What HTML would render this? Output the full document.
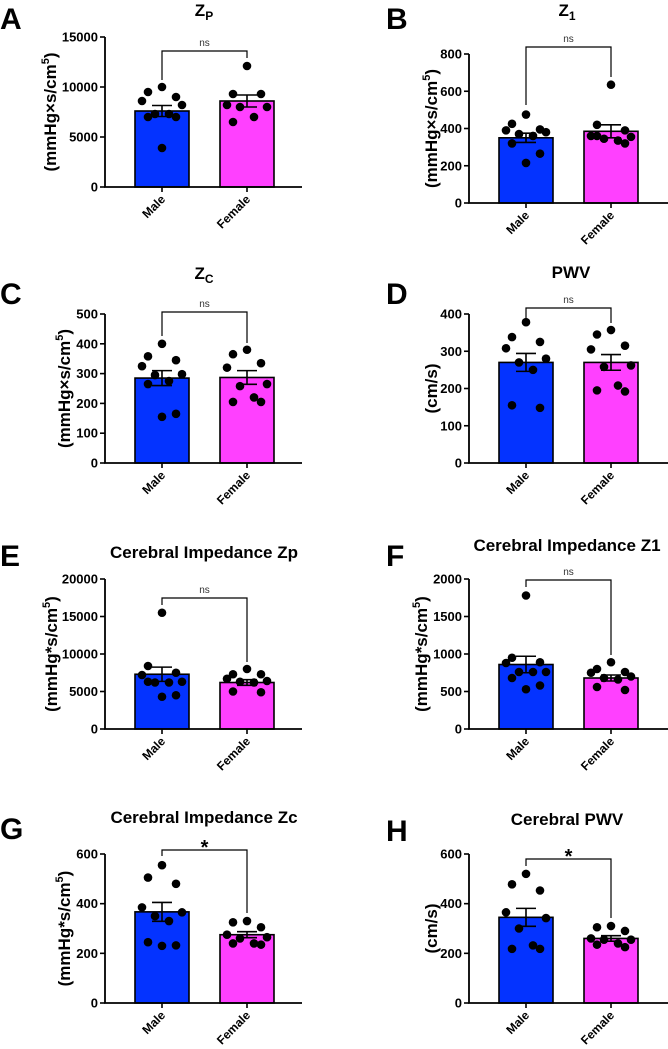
<!DOCTYPE html>
<html><head><meta charset="utf-8"><style>
html,body{margin:0;padding:0;background:#fff;}
svg{display:block;font-family:"Liberation Sans",Arial,sans-serif;}
</style></head><body>
<svg id="fig" width="668" height="1049" viewBox="0 0 668 1049" xmlns="http://www.w3.org/2000/svg"></svg>
<script>
const categories = ["Male","Female"];
const aMale = [10000,9500,9000,8600,8200,7300,7300,7000,7000,3900];
const aFemale = [12100,9300,9300,8200,8000,8000,7000,6500];
const aMean = [7600,8600]; const aSem = [550,600];
const bMale = [475,425,395,390,380,370,360,320,265,215];
const bFemale = [635,420,390,360,355,345,335,360,320];
const bMean = [350,385]; const bSem = [25,35];
const cMale = [400,358,345,325,298,295,275,265,165,155];
const cFemale = [380,365,335,320,265,258,220,205,205];
const cMean = [285,287]; const cSem = [25,23];
const dMale = [378,338,325,308,280,270,250,155,148];
const dFemale = [357,345,315,305,262,258,208,195,192];
const dMean = [270,270]; const dSem = [24,21];
const eMale = [15500,8400,7500,7200,6300,6200,6200,6300,4500,4300];
const eFemale = [8000,7300,7300,6700,6400,6300,6200,5000,4900];
const eMean = [7300,6200]; const eSem = [950,380];
const fMale = [1780,950,890,880,760,760,760,680,580,530];
const fFemale = [890,800,760,750,700,680,660,560,520];
const fMean = [860,680]; const fSem = [110,40];
const gMale = [555,505,480,385,365,350,330,245,232,230];
const gFemale = [330,325,305,275,265,260,240,240,235];
const gMean = [367,275]; const gSem = [38,12];
const hMale = [520,478,453,365,342,300,232,218,218];
const hFemale = [310,305,290,260,255,255,240,235,225];
const hMean = [345,260]; const hSem = [36,11];
const aTicks = [0,5000,10000,15000];
const bTicks = [0,200,400,600,800];
const cTicks = [0,100,200,300,400,500];
const dTicks = [0,100,200,300,400];
const eTicks = [0,5000,10000,15000,20000];
const fTicks = [0,500,1000,1500,2000];
const gTicks = [0,200,400,600];
const hTicks = [0,200,400,600];

const NS="http://www.w3.org/2000/svg";
const svg=document.getElementById('fig');
function mk(tag,attrs,parent,text){const e=document.createElementNS(NS,tag);for(const k in attrs)e.setAttribute(k,attrs[k]);if(text!==undefined)e.textContent=text;(parent||svg).appendChild(e);return e;}
const jit=[0,-14,14,-20,20,-7,7,-14,14,0,-20,20];

function panel(o){
  const g=mk('g',{});
  
  
  const ax=o.ax, y0=o.y0, yt=o.yt, maxV=o.ticks[o.ticks.length-1];
  const y=v=>y0-(v/maxV)*(y0-yt);
  const cx=[ax+57,ax+142];
  const L=mk('text',{x:o.lx,y:o.ly,'font-size':30,'font-weight':'bold'},g,o.letter);
  
  const T=mk('text',{x:o.tx,y:o.ty,'font-size':o.tfs||17,'font-weight':'bold','text-anchor':'middle'},g);
  
  T.appendChild(document.createTextNode(o.title));
  if(o.sub){mk('tspan',{'font-size':12,dy:4},T,o.sub);}
  const means=o.mean, sems=o.sem, data=[o.male,o.female], cols=['#0433ff','#ff40ff'];
  for(let i=0;i<2;i++){
    const b=mk('rect',{x:cx[i]-27,y:y(means[i]),width:54,height:y0-y(means[i]),fill:cols[i],stroke:'#000','stroke-width':1.6},g);
    
  }
  for(let i=0;i<2;i++){
    data[i].forEach((v,j)=>{const c=mk('circle',{cx:cx[i]+jit[j%jit.length],cy:y(v),r:4.3,fill:'#000'},g);
      });
    const e=mk('path',{d:`M${cx[i]} ${y(means[i]+sems[i])}V${y(means[i]-sems[i])}M${cx[i]-10} ${y(means[i]+sems[i])}h20M${cx[i]-10} ${y(means[i]-sems[i])}h20`,stroke:'#000','stroke-width':1.6,fill:'none'},g);
    
  }
  const axes=mk('path',{d:`M${ax} ${yt}V${y0}H${o.xend}`,stroke:'#000','stroke-width':1.8,fill:'none'},g);
  
  o.ticks.forEach(t=>{mk('line',{x1:ax-5,x2:ax,y1:y(t),y2:y(t),stroke:'#000','stroke-width':1.6},g);
    const tl=mk('text',{x:ax-7,y:y(t)+4.5,'font-size':13,'font-weight':'bold','text-anchor':'end'},g,String(t));
    });
  for(let i=0;i<2;i++){
    mk('line',{x1:cx[i],x2:cx[i],y1:y0,y2:y0+5,stroke:'#000','stroke-width':1.6},g);
    const cl=mk('text',{x:cx[i]+4,y:y0+13,'font-size':12,'font-weight':'bold','text-anchor':'end',transform:`rotate(-45 ${cx[i]+4} ${y0+13})`},g,categories[i]);
    
  }
  const ymid=(y0+yt)/2;
  const yl=mk('text',{x:o.ylx,y:ymid,'font-size':17,'font-weight':'bold','text-anchor':'middle',transform:`rotate(-90 ${o.ylx} ${ymid})`},g);
  
  yl.appendChild(document.createTextNode(o.ylabel));
  if(o.sup){mk('tspan',{'font-size':11,dy:-7},yl,'5');mk('tspan',{dy:7},yl,')');}
  const by=o.by;
  const br=mk('path',{d:`M${cx[0]} ${o.d0}V${by}H${cx[1]}V${o.d1}`,stroke:'#000','stroke-width':1.2,fill:'none'},g);
  
  const st=mk('text',{x:(cx[0]+cx[1])/2,y:o.star?by+4:by-5,'font-size':o.star?20:10,'font-weight':o.star?'bold':'normal','text-anchor':'middle',fill:o.star?'#000':'#333'},g,o.star?'*':'ns');
  
}
const mmx='(mmHg\u00D7s/cm', mma='(mmHg*s/cm';
panel({letter:'A',lx:0,ly:29,title:'Z',sub:'P',tx:204,ty:16,ax:105,y0:187,yt:37,xend:302,ticks:aTicks,male:aMale,female:aFemale,mean:aMean,sem:aSem,ylx:56,ylabel:mmx,sup:1,by:51,d0:80,d1:58});
panel({letter:'B',lx:386,ly:29,title:'Z',sub:'1',tx:567,ty:16,ax:469,y0:203,yt:54,xend:668,ticks:bTicks,male:bMale,female:bFemale,mean:bMean,sem:bSem,ylx:437,ylabel:mmx,sup:1,by:47,d0:105,d1:77});
panel({letter:'C',lx:0,ly:304,title:'Z',sub:'C',tx:204,ty:279,ax:105,y0:463,yt:314,xend:302,ticks:cTicks,male:cMale,female:cFemale,mean:cMean,sem:cSem,ylx:70,ylabel:mmx,sup:1,by:312,d0:336,d1:343});
panel({letter:'D',lx:386,ly:304,title:'PWV',tx:571,ty:278,ax:469,y0:463,yt:314,xend:668,ticks:dTicks,male:dMale,female:dFemale,mean:dMean,sem:dSem,ylx:437,ylabel:'(cm/s)',by:308,d0:318,d1:323});
panel({letter:'E',lx:0,ly:566,title:'Cerebral Impedance Zp',tx:204,ty:558,ax:105,y0:729,yt:579,xend:302,ticks:eTicks,male:eMale,female:eFemale,mean:eMean,sem:eSem,ylx:57,ylabel:mma,sup:1,by:598,d0:605,d1:662});
panel({letter:'F',lx:386,ly:566,title:'Cerebral Impedance Z1',tx:567,ty:551,ax:469,y0:729,yt:579,xend:668,ticks:fTicks,male:fMale,female:fFemale,mean:fMean,sem:fSem,ylx:427,ylabel:mma,sup:1,by:580,d0:587,d1:655});
panel({letter:'G',lx:0,ly:839,title:'Cerebral Impedance Zc',tx:204,ty:823,ax:105,y0:1003,yt:854,xend:302,ticks:gTicks,male:gMale,female:gFemale,mean:gMean,sem:gSem,ylx:70,ylabel:mma,sup:1,by:850,d0:856,d1:913,star:1});
panel({letter:'H',lx:386,ly:841,title:'Cerebral PWV',tx:567,ty:825,ax:469,y0:1003,yt:854,xend:668,ticks:hTicks,male:hMale,female:hFemale,mean:hMean,sem:hSem,ylx:437,ylabel:'(cm/s)',by:859,d0:866,d1:918,star:1});
</script>
</body></html>
